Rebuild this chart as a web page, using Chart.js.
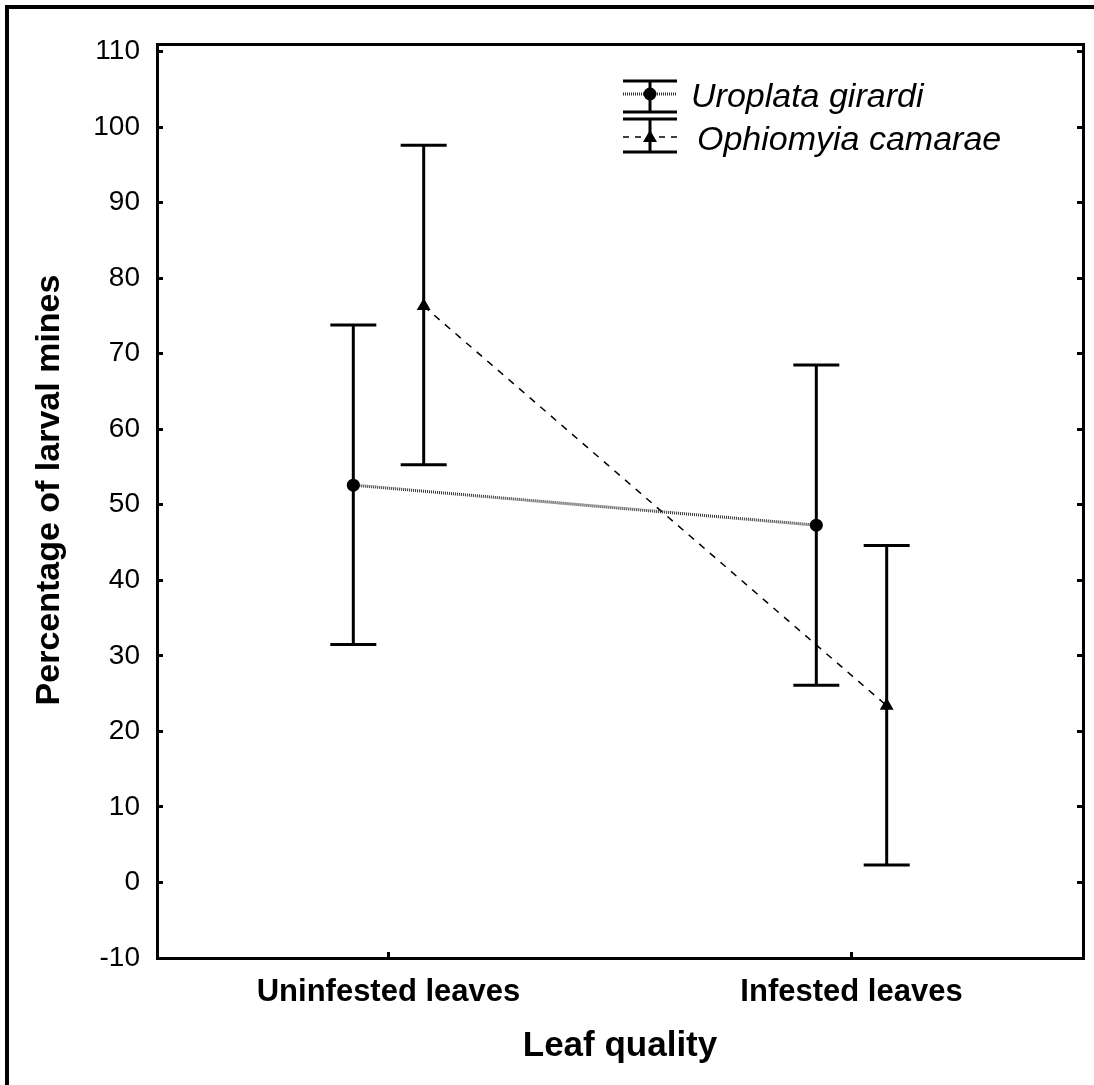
<!DOCTYPE html>
<html>
<head>
<meta charset="utf-8">
<title>Leaf quality and larval mines</title>
<script src="https://cdn.jsdelivr.net/npm/chart.js@4.4.0/dist/chart.umd.min.js"></script>
<style>
  html, body { margin: 0; padding: 0; background: #fff; }
  #wrap { position: relative; width: 1094px; height: 1085px; }
</style>
</head>
<body>
<div id="wrap"><canvas id="minesChart"></canvas></div>
<script>
// categories on the x axis
const leafQuality = ["Uninfested leaves", "Infested leaves"];
const yTickValues = [-10, 0, 10, 20, 30, 40, 50, 60, 70, 80, 90, 100, 110];

// Uroplata girardi: means and error bar limits
const uroplataMean = [52.6, 47.3];
const uroplataUpper = [73.8, 68.5];
const uroplataLower = [31.5, 26.1];

// Ophiomyia camarae: means and error bar limits
const ophiomyiaMean = [76.3, 23.4];
const ophiomyiaUpper = [97.6, 44.6];
const ophiomyiaLower = [55.3, 2.3];

const FONT = "'Liberation Sans', Arial, Helvetica, sans-serif";
const SHIFT = 0.076; // horizontal dodge of each species around a category

const toPoints = (means, dx) => means.map((v, i) => ({ x: i + dx, y: v }));

const series = [
  { mean: uroplataMean, upper: uroplataUpper, lower: uroplataLower, dx: -SHIFT },
  { mean: ophiomyiaMean, upper: ophiomyiaUpper, lower: ophiomyiaLower, dx: SHIFT }
];

const errorBars = {
  id: "errorBars",
  beforeDatasetsDraw(chart) {
    const { ctx, scales: { x, y } } = chart;
    ctx.save();
    ctx.strokeStyle = "#000";
    ctx.lineWidth = 3;
    series.forEach(s => {
      s.mean.forEach((m, i) => {
        const px = x.getPixelForValue(i + s.dx);
        const top = y.getPixelForValue(s.upper[i]);
        const bot = y.getPixelForValue(s.lower[i]);
        ctx.beginPath();
        ctx.moveTo(px, top); ctx.lineTo(px, bot);
        ctx.moveTo(px - 23, top); ctx.lineTo(px + 23, top);
        ctx.moveTo(px - 23, bot); ctx.lineTo(px + 23, bot);
        ctx.stroke();
      });
    });
    ctx.restore();
  }
};

// legend with error bar symbols, y axis title and the page frame
const decorations = {
  id: "decorations",
  afterDraw(chart) {
    const ctx = chart.ctx;
    ctx.save();
    ctx.fillStyle = "#000";
    ctx.fillRect(5, 5, 4, 1080);
    ctx.fillRect(5, 5, 1089, 4);

    ctx.save();
    ctx.translate(50, 490);
    ctx.rotate(-Math.PI / 2);
    ctx.font = "bold 34px " + FONT;
    ctx.textAlign = "center";
    ctx.textBaseline = "middle";
    ctx.fillText("Percentage of larval mines", 0, 0);
    ctx.restore();

    const rows = [
      { label: "Uroplata girardi", capTop: 81, capBot: 112, mid: 94, textX: 691, textY: 107, marker: "circle" },
      { label: "Ophiomyia camarae", capTop: 119, capBot: 152, mid: 137, textX: 697, textY: 150, marker: "triangle" }
    ];
    const cx = 650, half = 27;
    rows.forEach(r => {
      ctx.strokeStyle = "#000";
      ctx.lineWidth = 3;
      ctx.setLineDash([]);
      ctx.beginPath();
      ctx.moveTo(cx - half, r.capTop); ctx.lineTo(cx + half, r.capTop);
      ctx.moveTo(cx - half, r.capBot); ctx.lineTo(cx + half, r.capBot);
      ctx.moveTo(cx, r.capTop); ctx.lineTo(cx, r.capBot);
      ctx.stroke();

      ctx.beginPath();
      if (r.marker === "circle") {
        ctx.strokeStyle = "#333";
        ctx.lineWidth = 3;
        ctx.setLineDash([1, 1]);
      } else {
        ctx.strokeStyle = "#000";
        ctx.lineWidth = 1.5;
        ctx.setLineDash([6, 6]);
      }
      ctx.moveTo(cx - half, r.mid); ctx.lineTo(cx + half, r.mid);
      ctx.stroke();
      ctx.setLineDash([]);

      ctx.fillStyle = "#000";
      ctx.beginPath();
      if (r.marker === "circle") {
        ctx.arc(cx, r.mid, 6.5, 0, Math.PI * 2);
      } else {
        ctx.moveTo(cx, r.mid - 7);
        ctx.lineTo(cx + 7, r.mid + 5);
        ctx.lineTo(cx - 7, r.mid + 5);
        ctx.closePath();
      }
      ctx.fill();

      ctx.font = "italic 34px " + FONT;
      ctx.textAlign = "left";
      ctx.textBaseline = "alphabetic";
      ctx.fillText(r.label, r.textX, r.textY);
    });
    ctx.restore();
  }
};

const setTicks = values => scale => { scale.ticks = values.map(v => ({ value: v })); };

new Chart(document.getElementById("minesChart"), {
  type: "line",
  data: {
    datasets: [
      {
        label: "Uroplata girardi",
        data: toPoints(uroplataMean, -SHIFT),
        borderColor: "#333",
        borderWidth: 3,
        borderDash: [1, 1],
        pointStyle: "circle",
        pointRadius: 6.5,
        pointBackgroundColor: "#000",
        pointBorderColor: "#000",
        pointBorderWidth: 0
      },
      {
        label: "Ophiomyia camarae",
        data: toPoints(ophiomyiaMean, SHIFT),
        borderColor: "#000",
        borderWidth: 1.5,
        borderDash: [7, 7],
        pointStyle: "triangle",
        pointRadius: 8,
        pointBackgroundColor: "#000",
        pointBorderColor: "#000",
        pointBorderWidth: 0
      }
    ]
  },
  options: {
    responsive: true,
    maintainAspectRatio: false,
    animation: false,
    layout: { padding: 0 },
    plugins: {
      legend: { display: false },
      tooltip: { enabled: false }
    },
    scales: {
      x: {
        type: "linear",
        position: "bottom",
        min: -0.5,
        max: 1.5,
        afterBuildTicks: setTicks([0, 1]),
        afterFit: s => { s.height = 127; },
        grid: { drawOnChartArea: false, tickLength: -6, lineWidth: 3, color: "#000" },
        border: { display: true, width: 3, color: "#000" },
        ticks: {
          padding: 22,
          color: "#000",
          maxRotation: 0,
          font: { family: FONT, size: 31, weight: "bold" },
          callback: v => leafQuality[v]
        },
        title: {
          display: true,
          text: "Leaf quality",
          color: "#000",
          font: { family: FONT, size: 35, weight: "bold" },
          padding: { top: 0, bottom: 18 }
        }
      },
      xTop: {
        type: "linear",
        position: "top",
        min: -0.5,
        max: 1.5,
        afterFit: s => { s.height = 44; },
        grid: { drawOnChartArea: false, drawTicks: false },
        border: { display: true, width: 3, color: "#000" },
        ticks: { display: false }
      },
      y: {
        type: "linear",
        position: "left",
        min: -10,
        max: 111,
        afterBuildTicks: setTicks(yTickValues),
        afterFit: s => { s.width = 157; },
        grid: { drawOnChartArea: false, tickLength: -6, lineWidth: 3, color: "#000" },
        border: { display: true, width: 3, color: "#000" },
        ticks: {
          padding: 23,
          color: "#000",
          font: { family: FONT, size: 28 }
        }
      },
      yRight: {
        type: "linear",
        position: "right",
        min: -10,
        max: 111,
        afterBuildTicks: setTicks(yTickValues),
        afterFit: s => { s.width = 11; },
        grid: { drawOnChartArea: false, tickLength: -6, lineWidth: 3, color: "#000" },
        border: { display: true, width: 3, color: "#000" },
        ticks: { display: false }
      }
    }
  },
  plugins: [errorBars, decorations]
});
</script>
</body>
</html>
